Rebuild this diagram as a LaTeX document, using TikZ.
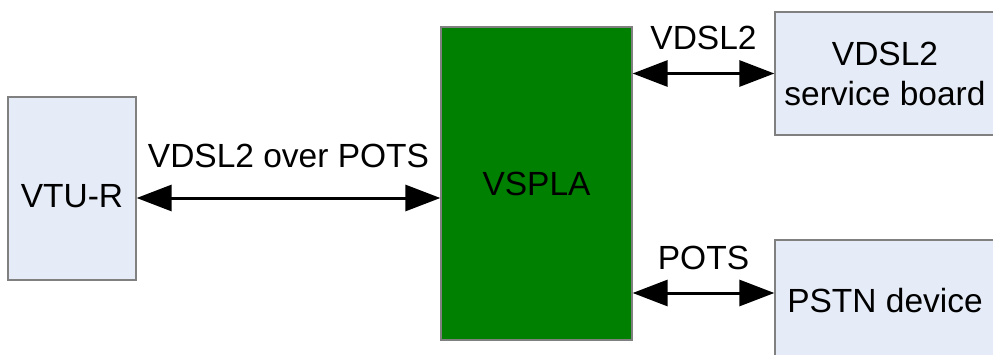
\documentclass[tikz,border=0pt]{standalone}
\usepackage{fontspec}
\setmainfont{Liberation Sans}
\usetikzlibrary{arrows.meta}

\definecolor{boxblue}{HTML}{E6ECF7}
\definecolor{boxgreen}{HTML}{008000}
\definecolor{edgegray}{HTML}{808080}

\begin{document}
\begin{tikzpicture}[x=1pt,y=1pt,
    font=\fontsize{33.5}{40}\selectfont,
    unit/.style={draw=edgegray,line width=1.3pt,fill=boxblue,inner sep=0pt,align=center},
    splitter/.style={draw=edgegray,line width=1.3pt,fill=boxgreen,inner sep=0pt},
    link/.style={{Triangle[length=35pt,width=26pt]}-{Triangle[length=35pt,width=26pt]},line width=3pt},
    lbl/.style={anchor=base,inner sep=0pt}]
  \clip (0,0) rectangle (993,354);
  \fill[white] (0,0) rectangle (993,354);
  \node[unit,minimum width=128pt,minimum height=183pt,text height=38pt] (vtur) at (72,165.5) {VTU-R};
  \node[splitter,minimum width=191pt,minimum height=313pt] (vspla) at (536.5,170.5) {VSPLA};
  \node[unit,minimum width=220pt,minimum height=123pt] (board) at (885,280.5) {VDSL2\\service board};
  \node[unit,minimum width=220pt,minimum height=122pt] (pstn) at (885,53) {PSTN device};
  \draw[link] ([yshift=-9.5pt]vtur.east) -- ([yshift=-9.5pt]vtur.east -| vspla.west)
    node[lbl,midway,yshift=30pt] {VDSL2 over POTS};
  \draw[link] (vspla.east |- board.west) -- (board.west)
    node[lbl,midway,yshift=24pt] {VDSL2};
  \draw[link] ([yshift=8pt]vspla.east |- pstn.west) -- ([yshift=8pt]pstn.west)
    node[lbl,midway,yshift=24pt] {POTS};
\end{tikzpicture}
\end{document}
